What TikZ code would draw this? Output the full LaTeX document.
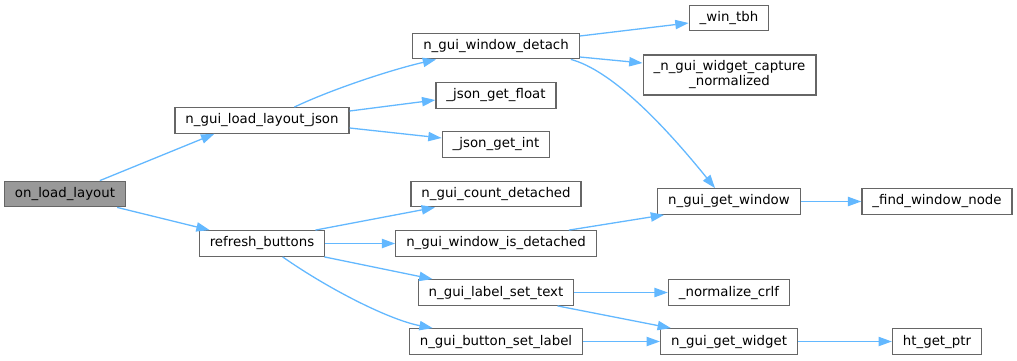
\documentclass[tikz,border=0pt]{standalone}
\usepackage{fontspec}
\setmainfont{DejaVu Sans}
\usetikzlibrary{arrows.meta,calc}
\definecolor{edgeblue}{HTML}{63B8FF}
\definecolor{bordergray}{HTML}{666666}
\definecolor{rootfill}{HTML}{999999}
\begin{document}
\begin{tikzpicture}[x=1pt,y=-1pt,
  fn/.style={draw=bordergray, fill=white, line width=1.3pt,
    font=\fontsize{13.33pt}{15pt}\selectfont, text=black,
    inner xsep=10.5pt, inner ysep=0pt, minimum height=25.5pt, anchor=center},
  root/.style={fn, fill=rootfill},
  edge/.style={draw=edgeblue, line width=1.3pt, -{Triangle[length=13.3pt,width=9.3pt]}}]
\useasboundingbox (0,0) rectangle (1017,360);

\node[root] (ol) at (65,194) {on\_load\_layout};
\node[fn] (lj) at (262,120.5) {n\_gui\_load\_layout\_json};
\node[fn] (rb) at (262,243.5) {refresh\_buttons};
\node[fn] (wd) at (496,46) {n\_gui\_window\_detach};
\node[fn] (jf) at (496,95.5) {\_json\_get\_float};
\node[fn] (ji) at (496,144.5) {\_json\_get\_int};
\node[fn] (cd) at (496,194) {n\_gui\_count\_detached};
\node[fn] (wi) at (496,243.5) {n\_gui\_window\_is\_detached};
\node[fn] (ls) at (496,292.5) {n\_gui\_label\_set\_text};
\node[fn] (bs) at (496,341.5) {n\_gui\_button\_set\_label};
\node[fn] (wt) at (729,18) {\_win\_tbh};
\node[fn, align=center, minimum height=40pt] (wc) at (729.5,75) {\_n\_gui\_widget\_capture\\\_normalized};
\node[fn] (gw) at (729,201.5) {n\_gui\_get\_window};
\node[fn] (nc) at (729,292.5) {\_normalize\_crlf};
\node[fn] (gg) at (729,341.5) {n\_gui\_get\_widget};
\node[fn] (fw) at (937,201.5) {\_find\_window\_node};
\node[fn] (hp) at (937,341.5) {ht\_get\_ptr};

% edges
\draw[edge] ([xshift=96pt]ol.north west) -- ([xshift=40pt]lj.south west);
\draw[edge] ([xshift=-9pt]ol.south east) -- ([xshift=11pt]rb.north west);
\draw[edge] ([xshift=120pt]lj.north west) .. controls (330,90) and (390,70) .. ([xshift=24pt]wd.south west);
\draw[edge] ([yshift=9.5pt]lj.east) -- ([yshift=-4.5pt]jf.west);
\draw[edge] ([yshift=-7.5pt]lj.east) -- ([yshift=6.5pt]ji.west);
\draw[edge] ([yshift=10pt]wd.east) -- ([yshift=-5pt]wt.west);
\draw[edge] ([yshift=-11pt]wd.east) -- ([yshift=12pt]wc.west);
\draw[edge] ([xshift=-9pt]wd.south east) .. controls (610,70) and (660,120) .. ([xshift=-14pt]gw.north);
\draw[edge] ([xshift=-10pt]rb.north east) -- ([xshift=-61pt]cd.south);
\draw[edge] (rb.east) -- (wi.west);
\draw[edge] ([xshift=-1pt]rb.south east) -- ([xshift=15pt]ls.north west);
\draw[edge] ([xshift=84pt]rb.south west) .. controls (330,290) and (390,320) .. ([xshift=24pt]bs.north west);
\draw[edge] ([xshift=-28pt]wi.north east) -- ([xshift=7pt]gw.south west);
\draw[edge] (ls.east) -- (nc.west);
\draw[edge] ([xshift=-17pt]ls.south east) -- ([xshift=11pt]gg.north west);
\draw[edge] (bs.east) -- (gg.west);
\draw[edge] (gw.east) -- (fw.west);
\draw[edge] (gg.east) -- (hp.west);
\end{tikzpicture}
\end{document}
